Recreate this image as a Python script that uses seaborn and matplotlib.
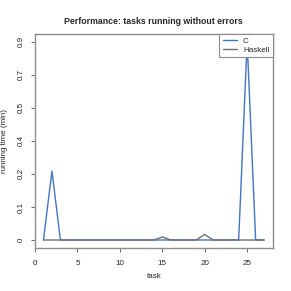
"""
Running time per task for C and Haskell, tasks that ran without errors.
"""
import numpy as np
import pandas as pd
import seaborn as sns
import matplotlib.pyplot as plt

# Data (running time in minutes)
TASKS = list(range(1, 28))
C_TIMES = [0, 0.25, 0, 0, 0, 0, 0, 0, 0, 0, 0, 0, 0, 0, 0, 0, 0, 0, 0, 0,
           0, 0, 0, 0, 0.9, 0, 0]
HASKELL_TIMES = [0, 0, 0, 0, 0, 0, 0, 0, 0, 0, 0, 0, 0, 0, 0.01, 0, 0, 0, 0,
                 0.018, 0, 0, 0, 0, 0, 0, 0]
X_TICKS = [0, 5, 10, 15, 20, 25]

C_COLOR = "#4473C2"
HASKELL_COLOR = "#6E6E6E"


def main():
    sns.set_style("white")
    plt.rcParams["font.family"] = ["Liberation Sans", "DejaVu Sans"]

    df = pd.concat([
        pd.DataFrame({"task": TASKS, "time": C_TIMES, "lang": "C"}),
        pd.DataFrame({"task": TASKS, "time": HASKELL_TIMES, "lang": "Haskell"}),
    ])

    fig = plt.figure(figsize=(2.91, 2.91), dpi=100)
    ax = fig.add_axes([0.119, 0.148, 0.819, 0.736])

    sns.lineplot(data=df, x="task", y="time", hue="lang",
                 palette={"C": C_COLOR, "Haskell": HASKELL_COLOR},
                 linewidth=1.0, ax=ax, legend=False)

    # log(1 + t) axis, labels shown back in minutes
    ax.set_yscale("function", functions=(np.log1p, np.expm1))
    top = np.log1p(max(max(C_TIMES), max(HASKELL_TIMES)))
    pad = top * 0.04
    ax.set_ylim(np.expm1(-pad), np.expm1(top + pad))
    pos = np.expm1(np.linspace(0, top, 7))
    ax.set_yticks(pos)
    ax.set_yticklabels(["%g" % round(v, 1) for v in pos], rotation=90,
                       va="center", fontsize=5.8)

    lo, hi = min(TASKS), max(TASKS)
    xpad = (hi - lo) * 0.04
    ax.set_xlim(lo - xpad, hi + xpad)
    ax.set_xticks(X_TICKS)
    ax.set_xticklabels([str(t) for t in X_TICKS], fontsize=5.8)

    ax.tick_params(axis="both", direction="out", length=3, width=0.6,
                   color="#555555", labelcolor="#222222")
    ax.tick_params(axis="x", pad=6)
    ax.tick_params(axis="y", pad=4)
    ax.yaxis.set_ticks_position("left")
    ax.xaxis.set_ticks_position("bottom")
    for s in ax.spines.values():
        s.set_color("#8C8C8C")
        s.set_linewidth(1.0)

    ax.set_xlabel("task", fontsize=5.8, labelpad=4, color="#222222")
    ax.set_ylabel("running time (min)", fontsize=5.8, labelpad=7,
                  color="#222222")
    ax.set_title("Performance: tasks running without errors", fontsize=6.3,
                 fontweight="bold", pad=7)

    handles = [plt.Line2D([], [], color=C_COLOR, lw=1.0),
               plt.Line2D([], [], color=HASKELL_COLOR, lw=1.0)]
    leg = ax.legend(handles, ["C", "Haskell"], loc="upper right",
                    fontsize=5.8, frameon=True, fancybox=False,
                    borderaxespad=0, handlelength=1.8, handletextpad=0.7,
                    borderpad=0.45, labelspacing=0.15)
    leg.get_frame().set_edgecolor("#8C8C8C")
    leg.get_frame().set_linewidth(0.8)
    leg.get_frame().set_alpha(1)

    fig.savefig("out.png", dpi=100)


if __name__ == "__main__":
    main()
